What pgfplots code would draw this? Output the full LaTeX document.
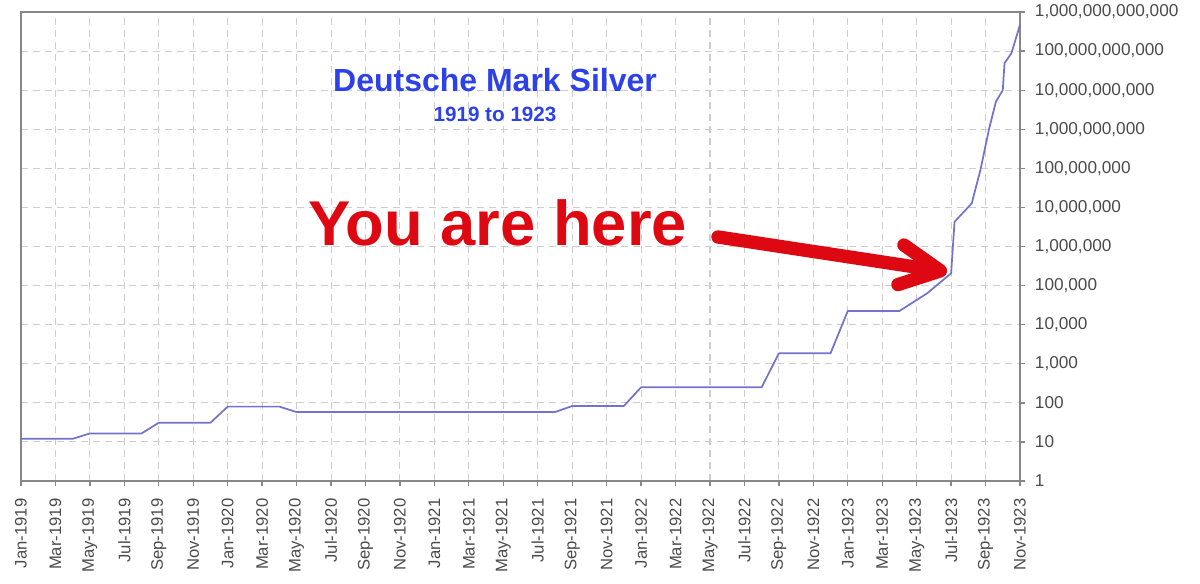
\documentclass[border=0pt]{standalone}
\usepackage{pgfplots}
\pgfplotsset{compat=1.18}
\usepackage{fontspec}
\setmainfont{Liberation Sans}
\usetikzlibrary{arrows.meta}
\definecolor{linec}{RGB}{115,115,205}
\definecolor{gridc}{RGB}{205,205,205}
\definecolor{axc}{RGB}{135,135,135}
\definecolor{labc}{RGB}{75,75,75}
\definecolor{titc}{RGB}{45,65,232}
\definecolor{redc}{RGB}{222,8,18}
\begin{document}
\begin{tikzpicture}
\path[use as bounding box] (-15.75pt,-76.5pt) rectangle (884.25pt,360.75pt);
\begin{axis}[
  scale only axis,
  width=749.25pt, height=351.75pt,
  ymode=log,
  xmin=0, xmax=58, ymin=1, ymax=1e12,
  clip=false,
  axis line style={axc, line width=1.1pt},
  tick style={axc, line width=1pt},
  major tick length=4pt,
  tick align=outside,
  xtick pos=bottom,
  ytick pos=right,
  yticklabel pos=right,
  xtick={0,2,...,58},
  xticklabels={Jan-1919,Mar-1919,May-1919,Jul-1919,Sep-1919,Nov-1919,Jan-1920,Mar-1920,May-1920,Jul-1920,Sep-1920,Nov-1920,Jan-1921,Mar-1921,May-1921,Jul-1921,Sep-1921,Nov-1921,Jan-1922,Mar-1922,May-1922,Jul-1922,Sep-1922,Nov-1922,Jan-1923,Mar-1923,May-1923,Jul-1923,Sep-1923,Nov-1923},
  x tick label style={rotate=90, anchor=east, font=\fontsize{12.5}{14}\selectfont, text=labc, inner sep=0pt, xshift=-9pt},
  ytick={1,10,100,1000,10000,100000,1000000,10000000,100000000,1000000000,10000000000,100000000000,1000000000000},
  yticklabels={1,10,100,{1,000},{10,000},{100,000},{1,000,000},{10,000,000},{100,000,000},{1,000,000,000},{10,000,000,000},{100,000,000,000},{1,000,000,000,000}},
  y tick label style={anchor=west, font=\fontsize{12.9}{14}\selectfont, text=labc, inner sep=0pt, xshift=7pt},
  minor y tick num=0,
  yminorticks=false,
  grid=major,
  major grid style={gridc, dashed, dash pattern=on 5pt off 4pt, line width=0.8pt},
  /pgf/number format/assume math mode=true,
]
\addplot[linec, line width=1.3pt, line join=round] coordinates {
(0,12) (3,12) (4,16.5) (7,16.5) (8,31) (11,31) (12,80) (15,80) (16,58)
(31,58) (32,83) (35,83) (36,250) (43,250) (44,1850) (47,1850) (48,22400)
(51,22400) (52.6,63000) (53.7,160000) (54,206000) (54.2,4300000)
(55.2,12700000) (55.3,19000000) (55.7,90000000) (56.2,1000000000)
(56.6,5100000000) (57.0,10000000000) (57.1,49000000000) (57.5,88000000000)
(58,470000000000)
};
\node[anchor=base, text=titc, font=\fontsize{24}{27}\selectfont\bfseries] at (rel axis cs:0.4745,0.830) {Deutsche Mark Silver};
\node[anchor=base, text=titc, font=\fontsize{15.5}{18}\selectfont\bfseries] at (rel axis cs:0.4745,0.766) {1919 to 1923};
\node[anchor=base, text=redc, font=\fontsize{47.5}{52}\selectfont\bfseries] at (rel axis cs:0.477,0.503) {You are here};
\draw[redc, line width=10pt, line cap=round, -{Straight Barb[length=30pt, width=30pt, line width=10pt, round]}]
  (rel axis cs:0.6977,0.5203) -- (rel axis cs:0.927,0.4460);
\end{axis}
\end{tikzpicture}
\end{document}
